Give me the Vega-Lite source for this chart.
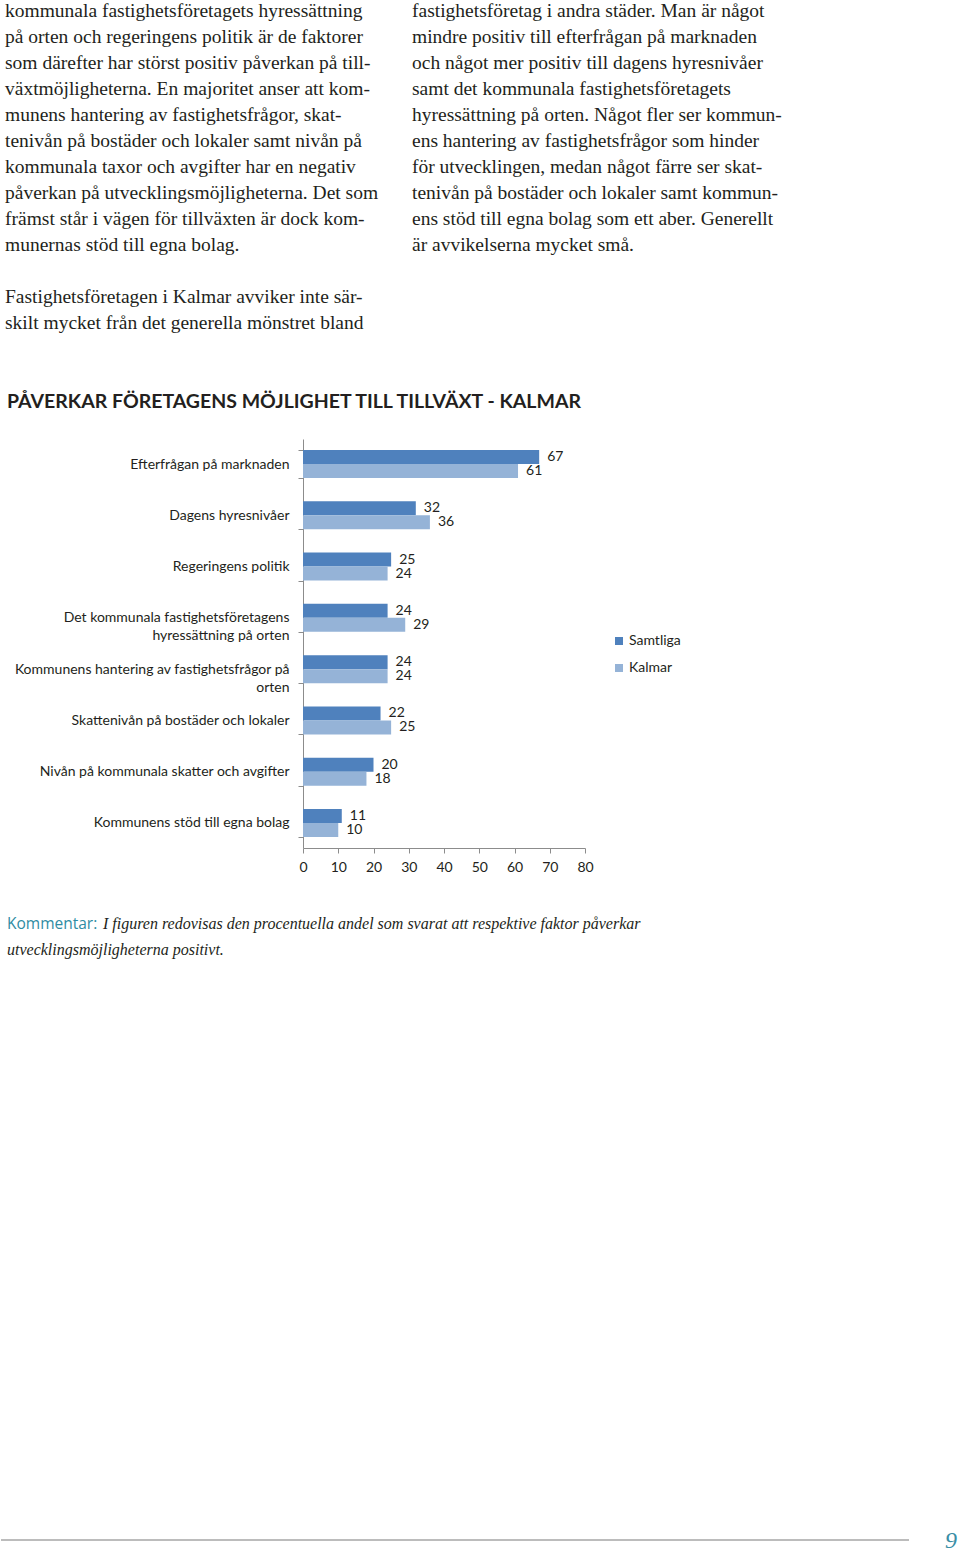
{
  "$schema": "https://vega.github.io/schema/vega-lite/v6.json",
  "background": "white",
  "padding": 0,
  "spacing": 0,
  "config": {"view": {"stroke": null}},
  "vconcat": [
    {
      "width": 960,
      "height": 391,
      "data": {"values": [
        {"kolumn": "vänster", "rad": 0, "text": "kommunala fastighetsföretagets hyressättning"},
        {"kolumn": "vänster", "rad": 1, "text": "på orten och regeringens politik är de faktorer"},
        {"kolumn": "vänster", "rad": 2, "text": "som därefter har störst positiv påverkan på till-"},
        {"kolumn": "vänster", "rad": 3, "text": "växtmöjligheterna. En majoritet anser att kom-"},
        {"kolumn": "vänster", "rad": 4, "text": "munens hantering av fastighetsfrågor, skat-"},
        {"kolumn": "vänster", "rad": 5, "text": "tenivån på bostäder och lokaler samt nivån på"},
        {"kolumn": "vänster", "rad": 6, "text": "kommunala taxor och avgifter har en negativ"},
        {"kolumn": "vänster", "rad": 7, "text": "påverkan på utvecklingsmöjligheterna. Det som"},
        {"kolumn": "vänster", "rad": 8, "text": "främst står i vägen för tillväxten är dock kom-"},
        {"kolumn": "vänster", "rad": 9, "text": "munernas stöd till egna bolag."},
        {"kolumn": "vänster", "rad": 11, "text": "Fastighetsföretagen i Kalmar avviker inte sär-"},
        {"kolumn": "vänster", "rad": 12, "text": "skilt mycket från det generella mönstret bland"},
        {"kolumn": "höger", "rad": 0, "text": "fastighetsföretag i andra städer. Man är något"},
        {"kolumn": "höger", "rad": 1, "text": "mindre positiv till efterfrågan på marknaden"},
        {"kolumn": "höger", "rad": 2, "text": "och något mer positiv till dagens hyresnivåer"},
        {"kolumn": "höger", "rad": 3, "text": "samt det kommunala fastighetsföretagets"},
        {"kolumn": "höger", "rad": 4, "text": "hyressättning på orten. Något fler ser kommun-"},
        {"kolumn": "höger", "rad": 5, "text": "ens hantering av fastighetsfrågor som hinder"},
        {"kolumn": "höger", "rad": 6, "text": "för utvecklingen, medan något färre ser skat-"},
        {"kolumn": "höger", "rad": 7, "text": "tenivån på bostäder och lokaler samt kommun-"},
        {"kolumn": "höger", "rad": 8, "text": "ens stöd till egna bolag som ett aber. Generellt"},
        {"kolumn": "höger", "rad": 9, "text": "är avvikelserna mycket små."}
      ]},
      "mark": {"type": "text", "align": "left", "baseline": "alphabetic", "font": "Liberation Serif", "fontSize": 19.5, "color": "#231f20"},
      "encoding": {
        "x": {"field": "kolumn", "type": "nominal", "scale": {"type": "point", "domain": ["vänster", "höger"], "range": [4, 411], "padding": 0}, "axis": null},
        "y": {"field": "rad", "type": "quantitative", "scale": {"domain": [0, 12], "range": [16.5, 328.5]}, "axis": null},
        "text": {"field": "text"}
      }
    },
    {
      "width": 960,
      "height": 409,
      "title": {"text": "PÅVERKAR FÖRETAGENS MÖJLIGHET TILL TILLVÄXT - KALMAR", "anchor": "start", "frame": "group", "dx": 6, "offset": 20, "font": "Lato", "fontSize": 19.5, "fontWeight": "bold", "color": "#231f20"},
      "data": {"values": [
        {"faktor": "Efterfrågan på marknaden", "grupp": "Samtliga", "andel": 67},
        {"faktor": "Efterfrågan på marknaden", "grupp": "Kalmar", "andel": 61},
        {"faktor": "Dagens hyresnivåer", "grupp": "Samtliga", "andel": 32},
        {"faktor": "Dagens hyresnivåer", "grupp": "Kalmar", "andel": 36},
        {"faktor": "Regeringens politik", "grupp": "Samtliga", "andel": 25},
        {"faktor": "Regeringens politik", "grupp": "Kalmar", "andel": 24},
        {"faktor": "Det kommunala fastighetsföretagens\nhyressättning på orten", "grupp": "Samtliga", "andel": 24},
        {"faktor": "Det kommunala fastighetsföretagens\nhyressättning på orten", "grupp": "Kalmar", "andel": 29},
        {"faktor": "Kommunens hantering av fastighetsfrågor på\norten", "grupp": "Samtliga", "andel": 24},
        {"faktor": "Kommunens hantering av fastighetsfrågor på\norten", "grupp": "Kalmar", "andel": 24},
        {"faktor": "Skattenivån på bostäder och lokaler", "grupp": "Samtliga", "andel": 22},
        {"faktor": "Skattenivån på bostäder och lokaler", "grupp": "Kalmar", "andel": 25},
        {"faktor": "Nivån på kommunala skatter och avgifter", "grupp": "Samtliga", "andel": 20},
        {"faktor": "Nivån på kommunala skatter och avgifter", "grupp": "Kalmar", "andel": 18},
        {"faktor": "Kommunens stöd till egna bolag", "grupp": "Samtliga", "andel": 11},
        {"faktor": "Kommunens stöd till egna bolag", "grupp": "Kalmar", "andel": 10}
      ]},
      "encoding": {
        "y": {
          "field": "faktor", "type": "nominal", "sort": null,
          "scale": {"paddingInner": 0.4537, "paddingOuter": 0.2146},
          "axis": {"title": null, "offset": -302, "labelFont": "Lato", "labelFontSize": 14, "labelColor": "#231f20", "labelLimit": 400, "labelPadding": 9, "labelLineHeight": 18, "labelExpr": "split(datum.label, '\\n')", "tickSize": 5, "tickColor": "#8c8c8c", "domainColor": "#8c8c8c", "tickBand": "extent", "grid": false}
        },
        "yOffset": {"field": "grupp", "type": "nominal", "sort": ["Samtliga", "Kalmar"], "scale": {"paddingInner": 0, "paddingOuter": 0}},
        "x": {
          "field": "andel", "type": "quantitative",
          "scale": {"domain": [0, 80], "range": [302, 584], "nice": false},
          "axis": {"title": null, "values": [0, 10, 20, 30, 40, 50, 60, 70, 80], "labelFont": "Lato", "labelFontSize": 14, "labelColor": "#231f20", "labelPadding": 7, "tickSize": 5, "tickColor": "#8c8c8c", "domainColor": "#8c8c8c", "grid": false, "labelFlush": false}
        }
      },
      "layer": [
        {
          "mark": {"type": "bar"},
          "encoding": {
            "color": {
              "field": "grupp", "type": "nominal",
              "scale": {"domain": ["Samtliga", "Kalmar"], "range": ["#4F81BD", "#95B3D7"]},
              "legend": {"title": null, "orient": "none", "legendX": 611, "legendY": 634, "symbolType": "square", "symbolSize": 64, "symbolStrokeWidth": 0, "labelFont": "Lato", "labelFontSize": 14, "labelColor": "#231f20", "rowPadding": 13, "labelOffset": 3}
            }
          }
        },
        {
          "mark": {"type": "text", "align": "left", "baseline": "middle", "dx": 8, "font": "Lato", "fontSize": 14, "color": "#231f20"},
          "encoding": {"text": {"field": "andel", "type": "quantitative"}}
        }
      ]
    },
    {
      "width": 960,
      "height": 100,
      "data": {"values": [
        {"rad": 0, "del": "etikett", "text": "Kommentar:"},
        {"rad": 0, "del": "text", "text": "I figuren redovisas den procentuella andel som svarat att respektive faktor påverkar"},
        {"rad": 1, "del": "text", "text": "utvecklingsmöjligheterna positivt."}
      ]},
      "encoding": {
        "y": {"field": "rad", "type": "quantitative", "scale": {"domain": [0, 1], "range": [55, 81]}, "axis": null},
        "x": {"datum": 0, "type": "quantitative", "scale": {"domain": [0, 1], "range": [6, 966]}, "axis": null},
        "text": {"field": "text"}
      },
      "layer": [
        {"transform": [{"filter": "datum.del === 'etikett'"}], "mark": {"type": "text", "align": "left", "baseline": "alphabetic", "font": "Open Sans", "fontSize": 15.5, "color": "#2f8ca3"}},
        {"transform": [{"filter": "datum.del === 'text' && datum.rad === 0"}], "mark": {"type": "text", "align": "left", "baseline": "alphabetic", "dx": 96, "font": "Liberation Serif", "fontStyle": "italic", "fontSize": 16, "color": "#231f20"}},
        {"transform": [{"filter": "datum.del === 'text' && datum.rad === 1"}], "mark": {"type": "text", "align": "left", "baseline": "alphabetic", "font": "Liberation Serif", "fontStyle": "italic", "fontSize": 16, "color": "#231f20"}}
      ]
    },
    {
      "width": 908,
      "height": 566,
      "data": {"values": [{"sida": "9"}]},
      "layer": [
        {"mark": {"type": "rule", "color": "#7a7a7a", "strokeWidth": 1.2}, "encoding": {"y": {"datum": 0, "type": "quantitative", "scale": {"domain": [0, 1]}, "axis": null}}},
        {"mark": {"type": "text", "align": "left", "baseline": "alphabetic", "dx": 36, "dy": 8, "font": "Liberation Serif", "fontStyle": "italic", "fontSize": 24, "color": "#3a8ea6"},
         "encoding": {"x": {"datum": 1, "type": "quantitative", "scale": {"domain": [0, 1]}, "axis": null}, "y": {"datum": 0, "type": "quantitative", "scale": {"domain": [0, 1]}, "axis": null}, "text": {"field": "sida"}}}
      ]
    }
  ]
}
